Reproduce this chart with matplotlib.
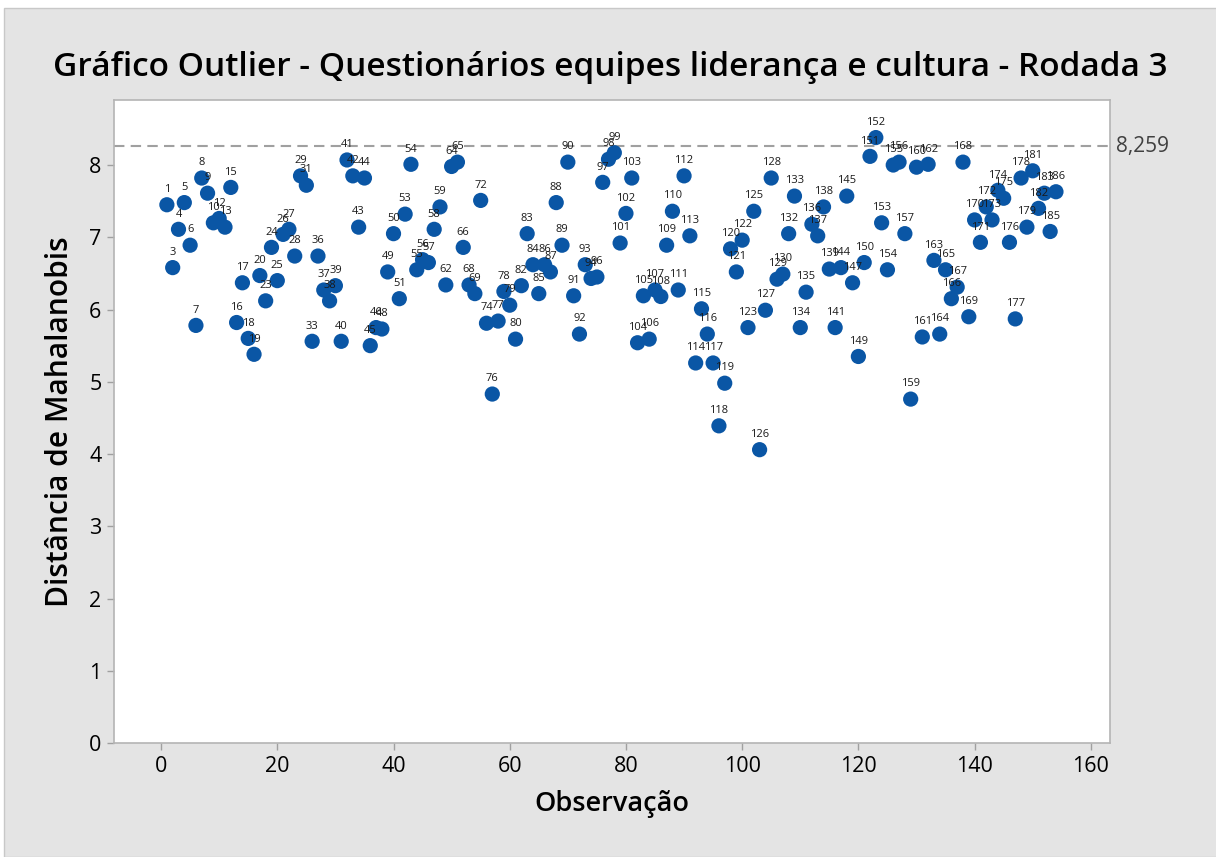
import matplotlib
matplotlib.use('Agg')
from matplotlib import pyplot as plt
from matplotlib.patches import Rectangle

# observation numbers (labels) and Mahalanobis distances, in plot order
obs = [1, 3, 4, 5, 6, 7, 8, 9, 10, 12, 13, 15, 16, 17, 18, 19, 20, 23, 24, 25,
       26, 27, 28, 29, 31, 33, 36, 37, 38, 39, 40, 41, 42, 43, 44, 45, 46, 48, 49, 50, 51,
       53, 54, 55, 56, 57, 58, 59, 62, 64, 65, 66, 68, 69, 72, 74, 76, 77, 78, 79, 80,
       82, 83, 84, 85, 86, 87, 88, 89, 90, 91, 92, 93, 94, 96, 97, 98, 99, 101, 102, 103,
       104, 105, 106, 107, 108, 109, 110, 111, 112, 113, 114, 115, 116, 117, 118, 119,
       120, 121, 122, 123, 125,
       126, 127, 128, 129, 130, 132, 133, 134, 135, 136, 137, 138, 139, 141, 144, 145,
       147, 149, 150, 151,
       152, 153, 154, 155, 156, 157, 159, 160, 161, 162, 163, 164, 165, 166, 167, 168,
       169, 170, 171, 172, 173,
       174, 175, 176, 177, 178, 179, 181, 182, 183, 185, 186]

dist = [7.45, 6.58, 7.11, 7.48, 6.89, 5.78, 7.82, 7.61, 7.20, 7.26, 7.14, 7.69, 5.82, 6.37,
        5.60, 5.38, 6.47, 6.12, 6.86, 6.40,
        7.04, 7.11, 6.74, 7.85, 7.72, 5.56, 6.74, 6.27, 6.12, 6.33, 5.56, 8.07, 7.85, 7.14,
        7.82, 5.50, 5.75, 5.73, 6.52, 7.05, 6.15,
        7.32, 8.01, 6.55, 6.69, 6.65, 7.11, 7.42, 6.34, 7.98, 8.04, 6.86, 6.34, 6.22, 7.51,
        5.81, 4.83, 5.84, 6.25, 6.06, 5.59,
        6.33, 7.05, 6.62, 6.22, 6.62, 6.52, 7.48, 6.89, 8.04, 6.19, 5.66, 6.62, 6.43, 6.45,
        7.76, 8.08, 8.17, 6.92, 7.33, 7.82,
        5.54, 6.19, 5.59, 6.27, 6.18, 6.89, 7.36, 6.27, 7.85, 7.02, 5.26, 6.01, 5.66, 5.26,
        4.39, 4.98, 6.84, 6.52, 6.96, 5.75, 7.36,
        4.06, 5.99, 7.82, 6.42, 6.49, 7.05, 7.57, 5.75, 6.24, 7.18, 7.02, 7.42, 6.56, 5.75,
        6.58, 7.57, 6.37, 5.35, 6.65, 8.12,
        8.38, 7.20, 6.55, 8.00, 8.04, 7.05, 4.76, 7.97, 5.62, 8.01, 6.68, 5.66, 6.55, 6.15,
        6.31, 8.04, 5.90, 7.24, 6.93, 7.42, 7.24,
        7.65, 7.54, 6.93, 5.87, 7.82, 7.14, 7.92, 7.40, 7.61, 7.08, 7.63]

ref_value = 8.259
ref_label = '8,259'

x = list(range(1, len(dist) + 1))

plt.rcParams['font.family'] = ['Open Sans', 'DejaVu Sans']

fig = plt.figure(figsize=(12.16, 8.57), dpi=100, facecolor='white')
fig.patches.append(Rectangle((4 / 1216, 0), 1, 1 - 8 / 857, transform=fig.transFigure,
                             facecolor='#e4e4e4', edgecolor='#c8c8c8', lw=1, zorder=-5))

ax = fig.add_axes([114 / 1216, 1 - 743 / 857, (1110 - 114) / 1216, (743 - 100) / 857])
ax.set_facecolor('white')

ax.scatter(x, dist, s=120, color='#0a56a5', edgecolors='none', zorder=3)
for xi, yi, lab in zip(x, dist, obs):
    ax.annotate(str(lab), (xi, yi), xytext=(0, 11), textcoords='offset points',
                ha='center', va='center', fontsize=8, color='#1a1a1a', zorder=4)

ax.axhline(ref_value, color='#a0a0a0', ls=(0, (5, 3)), lw=1.5, zorder=2)
ax.text(1.006, ref_value, ref_label, transform=ax.get_yaxis_transform(),
        va='center', ha='left', fontsize=15, color='#404040')

ax.set_xlim(-8.1, 163.3)
ax.set_ylim(0, 8.9)
ax.set_xticks(range(0, 161, 20))
ax.set_yticks(range(0, 9))
ax.tick_params(axis='both', labelsize=15.5, color='#a0a0a0', labelcolor='black',
               length=5, width=1, pad=4)
for s in ax.spines.values():
    s.set_color('#b4b4b4')
    s.set_linewidth(1.2)

ax.set_xlabel('Observação', fontsize=19.5, fontweight='semibold', labelpad=10)
ax.set_ylabel('Distância de Mahalanobis', fontsize=21.5, fontweight='semibold', labelpad=10)
fig.text(610 / 1216, 1 - 68 / 857,
         'Gráfico Outlier - Questionários equipes liderança e cultura - Rodada 3',
         ha='center', va='center', fontsize=24, fontweight='semibold')

fig.savefig('out.png', dpi=100, facecolor=fig.get_facecolor())
